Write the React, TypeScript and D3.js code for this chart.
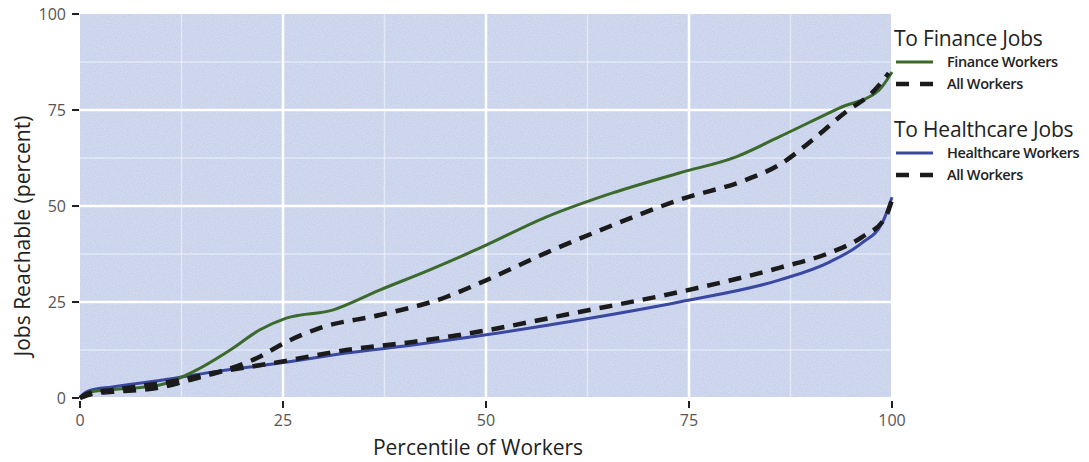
import React from "react";
import * as d3 from "d3";

const xTicks = [0, 25, 50, 75, 100];
const yTicks = [0, 25, 50, 75, 100];
const minorTicks = [12.5, 37.5, 62.5, 87.5];

const financeWorkersX = [0, 1.2, 4, 9.8, 13.9, 18.5, 22.1, 25.4, 31.1, 36.9, 43, 49.2, 57.4, 65.6, 73.8, 80.8, 86.1, 93.5, 98.4, 100];
const financeWorkersY = [0, 1.6, 2.2, 3.4, 6.8, 12.5, 17.7, 20.8, 22.9, 28.1, 33.3, 39, 47.1, 53.4, 58.6, 62.8, 68, 75.5, 80.2, 84.9];

const financeAllX = [0, 2, 4, 10.2, 13.5, 17.2, 21.8, 25.4, 29.5, 36.9, 45.1, 49.2, 57.4, 65.6, 73.8, 82, 86.1, 90.2, 94.3, 97.5, 99.6];
const financeAllY = [0, 1.3, 1.6, 2.9, 4.7, 6.8, 10.4, 14.6, 18.2, 21.6, 26.3, 29.9, 37.8, 45, 51.6, 56.8, 60.7, 67.2, 74.5, 79.4, 84.6];

const healthWorkersX = [0, 0.5, 1.2, 4, 10.2, 16.4, 24.6, 32.8, 41, 49.2, 61.5, 73.8, 86.1, 92.3, 96.3, 98.8, 100];
const healthWorkersY = [0, 1.2, 2, 2.9, 4.7, 6.8, 9.1, 11.7, 13.8, 16.2, 20.3, 25, 30.7, 35.4, 40.4, 45.6, 52.3];

const healthAllX = [0, 1, 4, 12.3, 16.4, 24.6, 32.8, 41, 49.2, 61.5, 73.8, 86.1, 92.3, 96.3, 99.2, 100];
const healthAllY = [0, 1.2, 2.1, 4.7, 6.5, 9.4, 12.5, 14.6, 17.3, 22.4, 27.6, 33.9, 37.8, 41.9, 47.1, 51.6];

const legendGroups = ["To Finance Jobs", "To Healthcare Jobs"];
const legendItems = [
  ["Finance Workers", "All Workers"],
  ["Healthcare Workers", "All Workers"],
];

const W = 1089;
const H = 462;
const FONT = "'Open Sans', 'Noto Sans', sans-serif";
const GREEN = "#3b6a2c";
const BLUE = "#3a48a2";
const BLACK = "#1b1b1b";
const DASH = "13,9";

export default function App() {
  const x = d3.scaleLinear().domain([0, 100]).range([80, 892]);
  const y = d3.scaleLinear().domain([0, 100]).range([398, 14]);
  const line = (xs: number[], ys: number[]) =>
    d3
      .line<number>()
      .x((_, i) => x(xs[i]))
      .y((d) => y(d))
      .curve(d3.curveMonotoneX)(ys) || "";

  const legendX = 894;
  const lineX0 = 896;
  const lineX1 = 933;
  const textX = 947;
  const groupY = [46, 137];
  const itemOffsets = [16, 38];

  return (
    <svg
      width={W}
      height={H}
      style={{ position: "absolute", left: 0, top: 0, background: "#fff" }}
      fontFamily={FONT}
    >
      <defs>
        <filter id="grain" x="0" y="0" width="100%" height="100%">
          <feTurbulence type="fractalNoise" baseFrequency="0.9" numOctaves="2" seed="3" result="n" />
          <feColorMatrix
            in="n"
            type="matrix"
            values="0 0 0 0 1  0 0 0 0 1  0 0 0 0 1  0 0 0 -1.2 1.1"
            result="w"
          />
          <feComposite in="w" in2="SourceGraphic" operator="in" />
        </filter>
      </defs>
      <rect x={x(0)} y={y(100)} width={x(100) - x(0) - 1} height={y(0) - y(100) - 1} fill="#c2cde9" />
      <rect
        x={x(0)}
        y={y(100)}
        width={x(100) - x(0) - 1}
        height={y(0) - y(100) - 1}
        fill="#c2cde9"
        filter="url(#grain)"
        opacity={0.35}
      />
      {minorTicks.map((t) => (
        <g key={"m" + t}>
          <line x1={x(0)} x2={x(100) - 1} y1={y(t)} y2={y(t)} stroke="#fff" strokeOpacity={0.45} strokeWidth={1.5} />
          <line x1={x(t)} x2={x(t)} y1={y(100)} y2={y(0) - 1} stroke="#fff" strokeOpacity={0.45} strokeWidth={1.5} />
        </g>
      ))}
      {[25, 50, 75].map((t) => (
        <g key={"g" + t}>
          <line x1={x(0)} x2={x(100) - 1} y1={y(t)} y2={y(t)} stroke="#fff" strokeWidth={2.5} />
          <line x1={x(t)} x2={x(t)} y1={y(100)} y2={y(0) - 1} stroke="#fff" strokeWidth={2.5} />
        </g>
      ))}

      <path d={line(healthWorkersX, healthWorkersY)} fill="none" stroke={BLUE} strokeWidth={3} />
      <path d={line(financeWorkersX, financeWorkersY)} fill="none" stroke={GREEN} strokeWidth={3} />
      <path d={line(healthAllX, healthAllY)} fill="none" stroke={BLACK} strokeWidth={4.5} strokeDasharray={DASH} />
      <path d={line(financeAllX, financeAllY)} fill="none" stroke={BLACK} strokeWidth={4.5} strokeDasharray={DASH} />

      {yTicks.map((t) => (
        <g key={"y" + t}>
          <line x1={72} x2={79} y1={y(t)} y2={y(t)} stroke="#222" strokeWidth={2} />
          <text x={66} y={y(t)} dy="0.35em" textAnchor="end" fontSize={16} fill="#555">
            {t}
          </text>
        </g>
      ))}
      {xTicks.map((t) => (
        <g key={"x" + t}>
          <line x1={x(t)} x2={x(t)} y1={401} y2={408} stroke="#222" strokeWidth={2} />
          <text x={x(t)} y={420} dy="0.35em" textAnchor="middle" fontSize={16} fill="#555">
            {t}
          </text>
        </g>
      ))}
      <text x={478} y={455} textAnchor="middle" fontSize={21} fill="#222">
        Percentile of Workers
      </text>
      <text
        transform={`translate(30,236) rotate(-90)`}
        textAnchor="middle"
        fontSize={21}
        fill="#222"
      >
        Jobs Reachable (percent)
      </text>

      {legendGroups.map((g, gi) => (
        <g key={g}>
          <text x={legendX} y={groupY[gi]} fontSize={21} fill="#222" letterSpacing={-0.2}>
            {g}
          </text>
          {legendItems[gi].map((it, ii) => {
            const cy = groupY[gi] + itemOffsets[ii];
            const dashed = ii === 1;
            return (
              <g key={it + ii}>
                <line
                  x1={lineX0}
                  x2={lineX1}
                  y1={cy}
                  y2={cy}
                  stroke={dashed ? BLACK : gi === 0 ? GREEN : BLUE}
                  strokeWidth={dashed ? 4.5 : 3}
                  strokeDasharray={dashed ? "13,11" : undefined}
                />
                <text x={textX} y={cy} dy="0.35em" fontSize={14.5} fontWeight={600} fill="#222" letterSpacing={-0.4}>
                  {it}
                </text>
              </g>
            );
          })}
        </g>
      ))}
    </svg>
  );
}
